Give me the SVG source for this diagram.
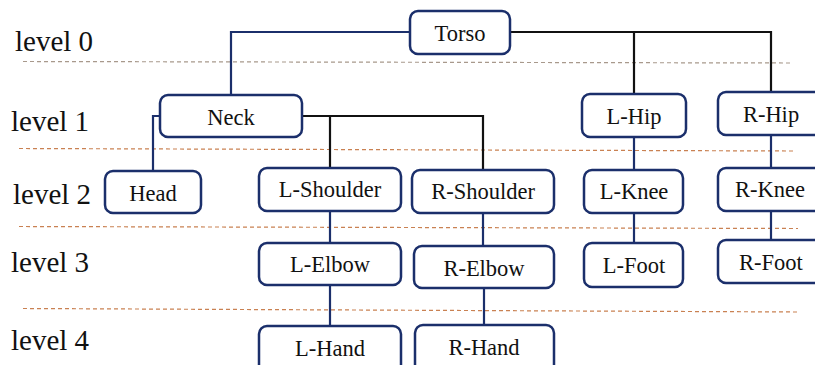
<svg xmlns="http://www.w3.org/2000/svg" width="815" height="365" viewBox="0 0 815 365">
<style>
.box{fill:#fff;stroke:#1b2f6b;stroke-width:2.5}
.t{font-family:"Liberation Serif","Times New Roman",serif;font-size:22.5px;fill:#111;text-anchor:middle}
.lv{font-family:"Liberation Serif","Times New Roman",serif;font-size:29px;fill:#111}
.nv{fill:none;stroke:#1b2f6b;stroke-width:2.2}
.bk{fill:none;stroke:#111;stroke-width:2.2}
.d1{stroke:#a8998c;stroke-width:1.2;stroke-dasharray:4 3}
.d2{stroke:#c98152;stroke-width:1.2;stroke-dasharray:4 3}
</style>
<rect width="815" height="365" fill="#fff"/>
<g id="levels">
<line class="d1" x1="23" y1="61.5" x2="793" y2="63"/>
<line class="d2" x1="19" y1="148.5" x2="793" y2="151"/>
<line class="d2" x1="19" y1="226.5" x2="798" y2="228.5"/>
<line class="d2" x1="23" y1="308.5" x2="798" y2="312"/>
<text class="lv" x="15" y="51">level 0</text>
<text class="lv" x="11" y="131">level 1</text>
<text class="lv" x="13" y="204">level 2</text>
<text class="lv" x="11" y="272">level 3</text>
<text class="lv" x="11" y="350">level 4</text>
</g>
<g id="connectors">
<polyline class="nv" points="410,32 231,32 231,95"/>
<polyline class="bk" points="510,32 771,32 771,92"/>
<line class="bk" x1="634" y1="32" x2="634" y2="94"/>
<polyline class="nv" points="160,116 153,116 153,171"/>
<polyline class="bk" points="302,116 483,116 483,170"/>
<line class="bk" x1="330" y1="116" x2="330" y2="168"/>
<line class="nv" x1="330" y1="211" x2="330" y2="243"/>
<line class="nv" x1="330" y1="285" x2="330" y2="326"/>
<line class="nv" x1="483" y1="213" x2="483" y2="246"/>
<line class="nv" x1="484" y1="288" x2="484" y2="325"/>
<line class="nv" x1="634" y1="137" x2="634" y2="170"/>
<line class="nv" x1="634" y1="213" x2="634" y2="243"/>
<line class="nv" x1="771" y1="135" x2="771" y2="168"/>
<line class="nv" x1="771" y1="211" x2="771" y2="240"/>
</g>
<g id="torso"><rect class="box" x="410" y="11" width="100" height="43" rx="8"/><text class="t" x="460" y="41">Torso</text></g>
<g id="neck"><rect class="box" x="160" y="95" width="142" height="42" rx="8"/><text class="t" x="231" y="125">Neck</text></g>
<g id="lhip"><rect class="box" x="582" y="94" width="104" height="43" rx="8"/><text class="t" x="634" y="124">L-Hip</text></g>
<g id="rhip"><rect class="box" x="718" y="92" width="104" height="43" rx="8"/><text class="t" x="771" y="122">R-Hip</text></g>
<g id="head"><rect class="box" x="105" y="171" width="96" height="42" rx="8"/><text class="t" x="153" y="201">Head</text></g>
<g id="lshoulder"><rect class="box" x="259" y="168" width="142" height="43" rx="8"/><text class="t" x="330" y="197">L-Shoulder</text></g>
<g id="rshoulder"><rect class="box" x="412" y="170" width="142" height="43" rx="8"/><text class="t" x="483" y="199">R-Shoulder</text></g>
<g id="lknee"><rect class="box" x="584" y="170" width="99" height="43" rx="8"/><text class="t" x="634" y="199">L-Knee</text></g>
<g id="rknee"><rect class="box" x="718" y="168" width="104" height="43" rx="8"/><text class="t" x="770" y="197">R-Knee</text></g>
<g id="lelbow"><rect class="box" x="259" y="243" width="142" height="42" rx="8"/><text class="t" x="330" y="272">L-Elbow</text></g>
<g id="relbow"><rect class="box" x="414" y="246" width="140" height="42" rx="8"/><text class="t" x="484" y="276">R-Elbow</text></g>
<g id="lfoot"><rect class="box" x="584" y="243" width="99" height="44" rx="8"/><text class="t" x="634" y="273">L-Foot</text></g>
<g id="rfoot"><rect class="box" x="718" y="240" width="104" height="43" rx="8"/><text class="t" x="771" y="270">R-Foot</text></g>
<g id="lhand"><rect class="box" x="259" y="326" width="142" height="50" rx="8"/><text class="t" x="330" y="356">L-Hand</text></g>
<g id="rhand"><rect class="box" x="415" y="325" width="139" height="50" rx="8"/><text class="t" x="484" y="355">R-Hand</text></g>
</svg>
